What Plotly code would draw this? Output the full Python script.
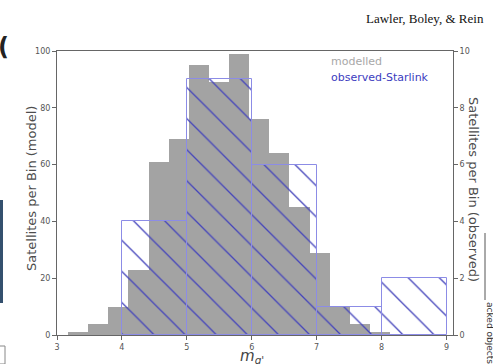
import plotly.graph_objects as go

# ---- data ----
model_bin_starts = [3.17, 3.48, 3.79, 4.10, 4.41, 4.72, 5.03, 5.34,
                    5.65, 5.96, 6.27, 6.58, 6.89, 7.20, 7.51, 7.82]
model_bin_width = 0.31
model_counts = [1, 4, 10, 23, 61, 69, 95, 89, 99, 76, 64, 45, 29, 10, 4, 1]

obs_bin_starts = [4, 5, 6, 7, 8]
obs_bin_width = 1.0
obs_counts = [4, 9, 6, 1, 2]

x_ticks = [3, 4, 5, 6, 7, 8, 9]
left_ticks = [0, 20, 40, 60, 80, 100]
right_ticks = [0, 2, 4, 6, 8, 10]

W, H = 493, 364
L, R, T, B = 57, 40, 51, 29
pw, ph = W - L - R, H - T - B


def px_x(p):
    return (p - L) / pw


def px_y(p):
    return (H - B - p) / ph


FONT = "DejaVu Sans"
AX = "#666666"
TXT = "#555555"

fig = go.Figure()

fig.add_trace(go.Bar(
    x=[s + model_bin_width / 2 for s in model_bin_starts],
    y=model_counts,
    width=model_bin_width,
    marker=dict(color="#a3a3a3", line=dict(width=0)),
    name="modelled",
    yaxis="y",
    showlegend=False,
))

fig.add_trace(go.Bar(
    x=[s + obs_bin_width / 2 for s in obs_bin_starts],
    y=obs_counts,
    width=obs_bin_width,
    marker=dict(
        color="rgba(0,0,0,0)",
        line=dict(color="#8c8ce6", width=1),
        pattern=dict(shape="\\", fgcolor="#4444bb", bgcolor="rgba(0,0,0,0)",
                     fillmode="overlay", fgopacity=1, size=22, solidity=0.06),
    ),
    name="observed-Starlink",
    yaxis="y2",
    showlegend=False,
))

axis_common = dict(ticks="outside", ticklen=4, tickcolor=AX, showline=True,
                   linecolor=AX, linewidth=1, showgrid=False, zeroline=False,
                   automargin=False, tickfont=dict(family=FONT, size=8, color=TXT))

fig.update_layout(
    width=W, height=H,
    margin=dict(l=L, r=R, t=T, b=B, autoexpand=False),
    paper_bgcolor="white", plot_bgcolor="white",
    barmode="overlay", bargap=0,
    font=dict(family=FONT, color=TXT, size=8),
    xaxis=dict(range=[3, 9.1], tickvals=x_ticks, mirror=True, **axis_common),
    yaxis=dict(range=[0, 100], tickvals=left_ticks, **axis_common),
    yaxis2=dict(range=[0, 10], tickvals=right_ticks, overlaying="y", side="right",
                **axis_common),
)

# axis titles
fig.add_annotation(xref="paper", yref="paper", x=px_x(31), y=px_y(189),
                   xanchor="center", yanchor="middle", showarrow=False, textangle=-90,
                   text="Satellites per Bin (model)",
                   font=dict(family=FONT, size=13, color="#4d4d4d"))
fig.add_annotation(xref="paper", yref="paper", x=px_x(474), y=px_y(189),
                   xanchor="center", yanchor="middle", showarrow=False, textangle=90,
                   text="Satellites per Bin (observed)",
                   font=dict(family=FONT, size=13, color="#4d4d4d"))
fig.add_annotation(xref="paper", yref="paper", x=px_x(252), y=px_y(345),
                   xanchor="center", yanchor="top", showarrow=False,
                   text="<i>m</i><sub><i>g'</i></sub>",
                   font=dict(family=FONT, size=15, color="#444444"))

# legend as coloured text
fig.add_annotation(xref="paper", yref="paper", x=px_x(329), y=px_y(62),
                   xanchor="left", yanchor="middle", showarrow=False,
                   text="modelled", font=dict(family=FONT, size=11, color="#a8a8a8"))
fig.add_annotation(xref="paper", yref="paper", x=px_x(329), y=px_y(77),
                   xanchor="left", yanchor="middle", showarrow=False,
                   text="observed-Starlink", font=dict(family=FONT, size=11, color="#3c3cc0"))

# page header and cropped surroundings
fig.add_annotation(xref="paper", yref="paper", x=px_x(486), y=px_y(19),
                   xanchor="right", yanchor="middle", showarrow=False,
                   text="Lawler, Boley, &amp; Rein",
                   font=dict(family="Liberation Serif", size=13, color="#111111"))
fig.add_annotation(xref="paper", yref="paper", x=px_x(-4), y=px_y(47),
                   xanchor="left", yanchor="middle", showarrow=False,
                   text="<b>(</b>", font=dict(family=FONT, size=24, color="#222222"))
fig.add_shape(type="rect", xref="paper", yref="paper",
              x0=px_x(0), x1=px_x(3), y0=px_y(303), y1=px_y(200),
              fillcolor="#34506e", line=dict(width=0))
fig.add_shape(type="rect", xref="paper", yref="paper",
              x0=px_x(-2), x1=px_x(5), y0=px_y(364), y1=px_y(346),
              fillcolor="rgba(0,0,0,0)", line=dict(color="#888888", width=1))
fig.add_shape(type="line", xref="paper", yref="paper",
              x0=px_x(485), x1=px_x(485), y0=px_y(300), y1=px_y(233),
              line=dict(color="#555555", width=1))
fig.add_annotation(xref="paper", yref="paper", x=px_x(490), y=px_y(300),
                   xanchor="center", yanchor="top", showarrow=False, textangle=90,
                   text="acked objects", font=dict(family=FONT, size=9, color="#333333"))

fig.write_html("out.html")
